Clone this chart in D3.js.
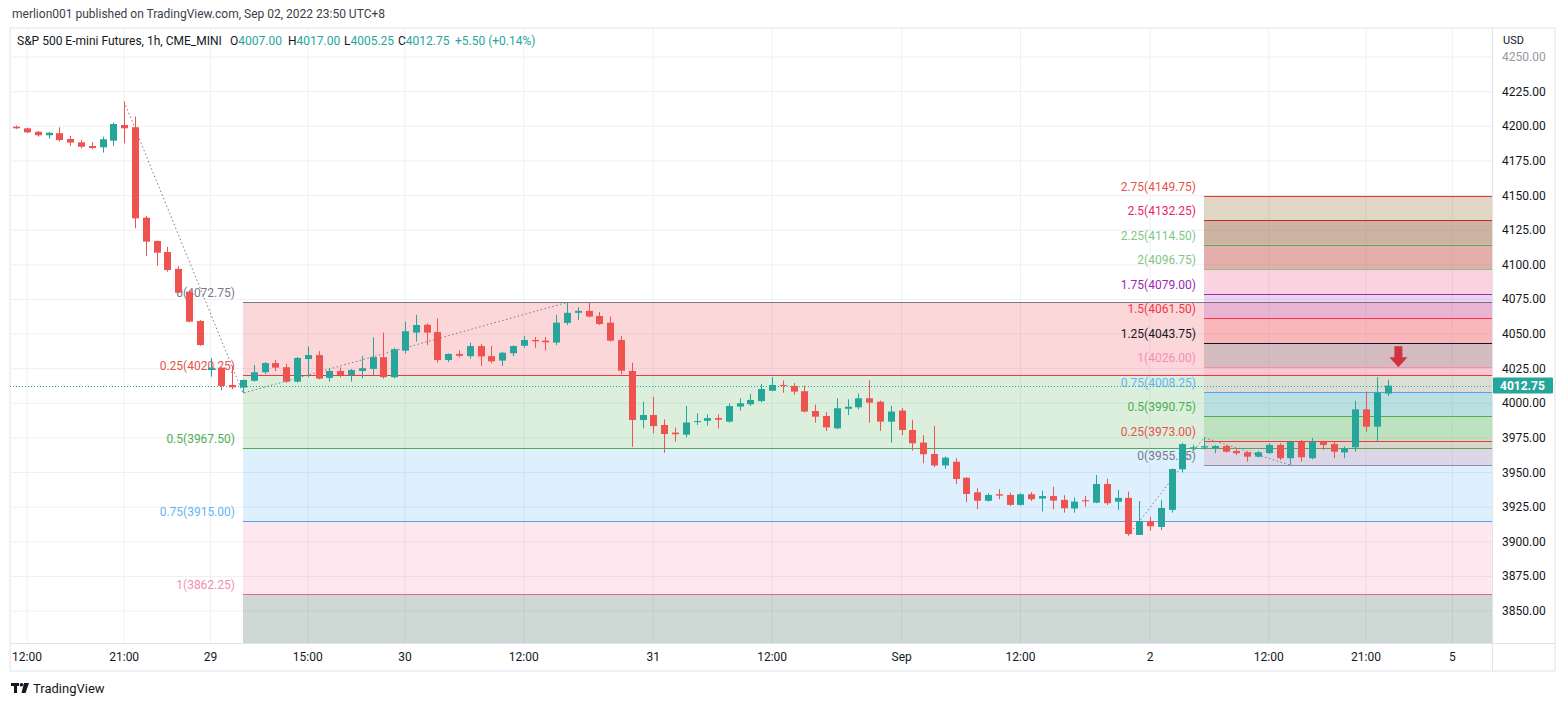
<!DOCTYPE html>
<html lang="en">
<head>
<meta charset="UTF-8">
<title>ES1! 1h</title>
<script src="https://d3js.org/d3.v7.min.js"></script>
<style>
  body { margin: 0; background: #fff; }
  text { font-family: Roboto, "Noto Sans", sans-serif; }
</style>
</head>
<body>
<svg width="1566" height="706"></svg>
<script>
// hourly bars, first one sits one bar left of the "12:00" tick
const firstBar = -1;
// [open, high, low, close]
const ohlc = [
  [4199.7,4200.5,4198.0,4198.5],[4198.5,4199.0,4195.0,4195.6],[4196.0,4196.6,4192.5,4193.5],[4193.5,4196.0,4191.0,4195.3],
  [4195.0,4199.2,4189.0,4190.0],[4190.8,4193.0,4185.7,4188.2],[4188.4,4190.0,4184.0,4185.2],[4185.7,4188.4,4183.4,4184.3],
  [4184.8,4192.5,4181.0,4190.6],[4189.6,4202.6,4185.7,4201.6],[4200.9,4217.75,4187.7,4198.5],[4199.3,4207.0,4126.3,4133.5],
  [4134.0,4135.2,4106.5,4116.7],[4117.2,4117.5,4099.3,4108.7],[4109.2,4113.0,4095.0,4096.2],[4097.0,4099.0,4079.4,4079.8],
  [4080.6,4081.5,4058.5,4058.9],[4059.4,4060.0,4041.5,4042.0],[4024.0,4032.7,4019.2,4025.7],[4025.7,4026.0,4009.5,4012.5],
  [4013.2,4026.9,4010.0,4011.5],[4011.3,4017.3,4007.25,4016.8],[4016.2,4027.6,4015.6,4022.4],[4022.4,4029.7,4021.0,4029.0],
  [4029.0,4031.2,4023.3,4025.7],[4026.0,4028.5,4014.8,4015.6],[4015.6,4033.5,4014.9,4032.7],[4031.9,4040.9,4018.8,4034.8],
  [4034.8,4037.6,4017.3,4017.8],[4018.3,4025.3,4015.6,4023.3],[4023.3,4026.0,4018.8,4020.4],[4020.4,4024.7,4015.6,4024.0],
  [4023.3,4034.1,4018.0,4025.3],[4024.8,4047.6,4020.4,4033.3],[4033.3,4051.0,4017.8,4018.8],[4018.8,4040.0,4018.0,4039.0],
  [4038.0,4058.9,4036.0,4052.0],[4051.0,4063.8,4044.5,4056.5],[4056.7,4057.7,4042.0,4051.0],[4051.4,4061.3,4029.3,4031.2],
  [4031.2,4036.0,4029.7,4035.6],[4035.6,4038.2,4033.1,4034.3],[4034.0,4043.7,4032.2,4041.3],[4041.3,4042.8,4026.9,4033.8],
  [4034.0,4041.3,4028.9,4030.3],[4030.8,4037.2,4026.9,4036.5],[4036.1,4041.7,4034.0,4041.3],[4041.5,4048.6,4040.0,4045.7],
  [4045.7,4047.9,4040.0,4044.7],[4045.2,4047.9,4038.0,4044.0],[4043.8,4063.8,4042.0,4058.2],[4058.0,4072.75,4056.5,4065.3],
  [4065.3,4069.3,4060.0,4066.7],[4066.7,4072.6,4062.0,4062.6],[4063.0,4065.9,4056.5,4057.2],[4058.2,4062.6,4044.5,4045.2],
  [4045.7,4048.6,4021.0,4023.5],[4023.3,4029.3,3968.5,3987.9],[3987.9,4001.1,3981.9,3991.5],[3991.5,4004.7,3978.3,3983.5],
  [3984.3,3988.4,3964.3,3977.8],[3978.8,3982.5,3972.3,3977.6],[3977.3,3998.0,3975.4,3986.1],[3986.4,3992.7,3984.3,3987.1],
  [3987.3,3991.9,3983.9,3989.3],[3989.3,3991.9,3981.8,3988.1],[3986.7,3999.9,3986.0,3998.0],[3997.6,4003.6,3994.6,4000.0],
  [3999.3,4006.7,3998.0,4002.4],[4001.6,4013.9,4000.7,4010.3],[4009.0,4018.8,4008.8,4013.2],[4013.2,4016.5,4007.6,4012.5],
  [4012.5,4014.6,4006.2,4008.4],[4008.7,4012.6,3993.4,3994.0],[3994.4,3999.0,3986.0,3990.3],[3990.8,3993.6,3980.0,3982.6],
  [3981.9,4003.6,3981.2,3996.4],[3996.0,4002.8,3991.5,3997.5],[3997.1,4007.0,3995.6,4003.6],[4003.6,4016.6,3986.0,4000.4],
  [4001.1,4001.9,3980.0,3986.7],[3986.7,3998.0,3971.6,3994.0],[3994.7,3996.4,3977.0,3980.7],[3980.7,3988.0,3965.8,3971.1],
  [3971.6,3977.0,3956.7,3963.2],[3963.4,3983.6,3953.8,3955.1],[3955.1,3961.6,3952.7,3960.7],[3957.8,3960.3,3941.7,3945.3],
  [3946.2,3946.5,3928.5,3934.5],[3935.7,3938.6,3923.6,3929.6],[3929.6,3935.0,3929.0,3933.8],[3934.3,3938.0,3930.7,3933.3],
  [3933.8,3935.5,3925.9,3926.6],[3926.6,3935.0,3926.0,3934.3],[3934.3,3935.9,3929.3,3930.7],[3931.2,3936.9,3921.8,3933.0],
  [3933.0,3939.7,3923.4,3929.7],[3930.2,3933.6,3921.0,3924.2],[3924.0,3932.0,3921.0,3929.0],[3930.0,3933.0,3925.3,3929.2],
  [3928.2,3948.2,3927.8,3941.7],[3941.7,3945.5,3926.5,3927.8],[3928.9,3937.4,3922.9,3931.7],[3931.7,3936.2,3904.5,3905.6],
  [3904.9,3929.4,3905.0,3915.0],[3914.8,3918.0,3908.0,3911.2],[3910.7,3930.0,3908.5,3924.4],[3923.0,3953.0,3921.0,3952.5],
  [3952.3,3971.5,3950.0,3970.5],[3967.5,3970.0,3966.0,3968.2],[3968.0,3975.25,3966.5,3969.0],[3967.5,3969.9,3963.9,3969.1],
  [3969.1,3969.9,3964.3,3965.0],[3965.5,3966.8,3962.6,3963.9],[3964.6,3965.0,3957.8,3961.4],[3961.4,3965.5,3961.0,3964.6],
  [3964.0,3971.1,3963.4,3969.9],[3969.9,3971.1,3959.0,3960.3],[3960.3,3973.0,3955.25,3972.3],[3972.3,3973.5,3957.8,3961.0],
  [3960.3,3975.0,3959.5,3972.3],[3972.3,3973.0,3966.3,3969.9],[3970.6,3972.3,3960.3,3965.0],[3964.5,3968.8,3960.3,3967.5],
  [3968.2,4001.8,3965.0,3995.6],[3995.6,4008.3,3979.5,3983.1],[3983.1,4018.8,3972.3,4007.6],[4007.0,4017.0,4005.25,4012.75]
];

const timeTickBars   = [0, 9, 17, 26, 35, 46, 58, 69, 81, 92, 104, 115, 124, 132];
const timeTickLabels = ["12:00","21:00","29","15:00","30","12:00","31","12:00","Sep","12:00","2","12:00","21:00","5"];
const priceTicks = [3850,3875,3900,3925,3950,3975,4000,4025,4050,4075,4100,4125,4150,4175,4200,4225,4250];

// trend-based fib extensions: points A, B, C as [bar, price]
const leftFibPoints  = [[9, 4217.75], [20, 4007.25], [50, 4072.75]];
const leftFibRatios  = [0, 0.25, 0.5, 0.75, 1];
const leftFibPrices  = [4072.75, 4020.25, 3967.50, 3915.00, 3862.25];
const rightFibPoints = [[102, 3904.5], [109, 3975.25], [117, 3955.25]];
const rightFibRatios = [0, 0.25, 0.5, 0.75, 1, 1.25, 1.5, 1.75, 2, 2.25, 2.5, 2.75];
const rightFibPrices = [3955.25, 3973.00, 3990.75, 4008.25, 4026.00, 4043.75, 4061.50, 4079.00, 4096.75, 4114.50, 4132.25, 4149.75];

const lastPrice = 4012.75;
const arrowBar = 127, arrowPrice = 4026;

const symbolName = "S&P 500 E-mini Futures, 1h, CME_MINI";
const legendItems = [["O", "4007.00"], ["H", "4017.00"], ["L", "4005.25"], ["C", "4012.75"], ["", "+5.50 (+0.14%)"]];

// styles
const up = "#26a69a", down = "#ef5350";
const leftLineColors = ["#787b86", "#f23645", "#4caf50", "#5b9cf6", "#f06292"];
const leftTextColors = ["#787b86", "#e5534b", "#4caf50", "#64b5f6", "#f48fb1"];
const leftBandColors = ["rgba(242,54,69,0.2)", "rgba(76,175,80,0.2)", "rgba(33,150,243,0.15)", "rgba(233,30,99,0.1)", "rgba(30,80,70,0.22)"];
const rightLineColors = ["#8c8fa8", "#f23645", "#4caf50", "#5b9cf6", "#f48fb1", "#131722", "#f23645", "#9c27b0", "#81c784", "#4caf50", "#c62828", "#e53935"];
const rightTextColors = ["#787b86", "#e5534b", "#4caf50", "#64b5f6", "#f48fb1", "#131722", "#f23645", "#9c27b0", "#81c784", "#81c784", "#e91e63", "#e5534b"];
const rightBandColors = ["rgba(200,80,110,0.15)", "rgba(76,175,80,0.2)", "rgba(33,150,243,0.18)", "rgba(233,30,99,0.08)",
  "rgba(120,123,134,0.3)", "rgba(242,54,69,0.2)", "rgba(156,39,176,0.2)", "rgba(233,30,99,0.2)",
  "rgba(188,55,43,0.4)", "rgba(130,67,22,0.4)", "rgba(155,115,65,0.3)"];

const svg = d3.select("svg");
const plot = { left: 10, right: 1492, top: 28, bottom: 643 };

const x = d3.scaleLinear().domain([0, 124]).range([27, 1366]);
const y = d3.scaleLinear().domain([3850, 4250]).range([611, 57]);

svg.append("defs").append("clipPath").attr("id", "plotclip")
  .append("rect").attr("x", plot.left).attr("y", plot.top)
  .attr("width", plot.right - plot.left).attr("height", plot.bottom - plot.top);

// header
svg.append("text").attr("x", 12).attr("y", 18).attr("font-size", 12).attr("fill", "#3a3e4a")
  .text("merlion001 published on TradingView.com, Sep 02, 2022 23:50 UTC+8");

// pane frame
svg.append("rect").attr("x", plot.left).attr("y", plot.top).attr("width", 1555 - plot.left)
  .attr("height", 671 - plot.top).attr("fill", "none").attr("stroke", "#e0e3eb");

const g = svg.append("g").attr("clip-path", "url(#plotclip)");

// grid
g.append("g").selectAll("line").data(timeTickBars).join("line")
  .attr("x1", d => x(d)).attr("x2", d => x(d)).attr("y1", plot.top).attr("y2", plot.bottom)
  .attr("stroke", "#eef0f4");
g.append("g").selectAll("line").data(priceTicks).join("line")
  .attr("x1", plot.left).attr("x2", plot.right).attr("y1", d => y(d)).attr("y2", d => y(d))
  .attr("stroke", "#eef0f4");

function drawFib(points, ratios, prices, bandColors, lineColors, textColors, fillBelow) {
  const x0 = x(points[1][0]);
  const fg = g.append("g");
  for (let k = 0; k < prices.length - 1; k++) {
    const a = y(prices[k]), b = y(prices[k + 1]);
    fg.append("rect").attr("x", x0).attr("width", plot.right - x0)
      .attr("y", Math.min(a, b)).attr("height", Math.abs(b - a)).attr("fill", bandColors[k]);
  }
  if (fillBelow) {
    const last = y(prices[prices.length - 1]);
    fg.append("rect").attr("x", x0).attr("width", plot.right - x0)
      .attr("y", last).attr("height", plot.bottom - last).attr("fill", bandColors[prices.length - 1]);
  }
  fg.selectAll("line.lvl").data(prices).join("line").attr("class", "lvl")
    .attr("x1", x0).attr("x2", plot.right)
    .attr("y1", d => Math.round(y(d)) + 0.5).attr("y2", d => Math.round(y(d)) + 0.5)
    .attr("stroke", (d, i) => lineColors[i]);
  fg.selectAll("text").data(prices).join("text")
    .attr("x", x0 - 8).attr("y", d => y(d) - 5)
    .attr("text-anchor", "end").attr("font-size", 12)
    .attr("fill", (d, i) => textColors[i])
    .text((d, i) => `${ratios[i]}(${d.toFixed(2)})`);
  fg.append("path")
    .attr("d", d3.line().x(d => x(d[0])).y(d => y(d[1]))(points))
    .attr("fill", "none").attr("stroke", "#787b86").attr("stroke-width", 1)
    .attr("stroke-dasharray", "1.5,2.5");
}

drawFib(leftFibPoints, leftFibRatios, leftFibPrices, leftBandColors, leftLineColors, leftTextColors, true);
drawFib(rightFibPoints, rightFibRatios, rightFibPrices, rightBandColors, rightLineColors, rightTextColors, false);

// last price line
g.append("line").attr("x1", plot.left).attr("x2", plot.right)
  .attr("y1", Math.round(y(lastPrice)) + 0.5).attr("y2", Math.round(y(lastPrice)) + 0.5)
  .attr("stroke", "#26a69a").attr("stroke-dasharray", "1,2");

// candles
const bars = ohlc.map((d, i) => ({ i: i + firstBar, o: d[0], h: d[1], l: d[2], c: d[3] }));
const cg = g.append("g").selectAll("g").data(bars).join("g");
cg.append("line")
  .attr("x1", d => Math.round(x(d.i)) + 0.5).attr("x2", d => Math.round(x(d.i)) + 0.5)
  .attr("y1", d => y(d.h)).attr("y2", d => y(d.l))
  .attr("stroke", d => d.c >= d.o ? up : down);
cg.append("rect")
  .attr("x", d => Math.round(x(d.i)) - 3).attr("width", 7)
  .attr("y", d => y(Math.max(d.o, d.c)))
  .attr("height", d => Math.max(1, Math.abs(y(d.o) - y(d.c))))
  .attr("fill", d => d.c >= d.o ? up : down);

// arrow marker
const ax = x(arrowBar), ay = y(arrowPrice);
g.append("path")
  .attr("d", `M${ax - 4},${ay - 21}H${ax + 4}V${ay - 10}H${ax + 9}L${ax},${ay}L${ax - 9},${ay - 10}H${ax - 4}Z`)
  .attr("fill", "#d0343f");

// axes separators
svg.append("line").attr("x1", plot.right + 0.5).attr("x2", plot.right + 0.5).attr("y1", plot.top).attr("y2", 671).attr("stroke", "#e0e3eb");
svg.append("line").attr("x1", plot.left).attr("x2", 1555).attr("y1", plot.bottom + 0.5).attr("y2", plot.bottom + 0.5).attr("stroke", "#e0e3eb");

// price axis
svg.append("text").attr("x", 1503).attr("y", 44).attr("font-size", 11).attr("fill", "#131722").text("USD");
svg.append("g").selectAll("text").data(priceTicks).join("text")
  .attr("x", 1502).attr("y", d => y(d) + 4).attr("font-size", 12)
  .attr("fill", d => d === 4250 ? "#9598a1" : "#131722")
  .text(d => d.toFixed(2));
svg.append("rect").attr("x", 1493).attr("y", y(lastPrice) - 8).attr("width", 60).attr("height", 16)
  .attr("rx", 1).attr("fill", "#26a69a");
svg.append("text").attr("x", 1500).attr("y", y(lastPrice) + 4.5).attr("font-size", 12)
  .attr("font-weight", "bold").attr("fill", "#fff").text(lastPrice.toFixed(2));

// time axis
svg.append("g").selectAll("text").data(timeTickBars).join("text")
  .attr("x", d => x(d)).attr("y", 661).attr("text-anchor", "middle").attr("font-size", 12)
  .attr("fill", "#131722").text((d, i) => timeTickLabels[i]);

// legend row
const leg = svg.append("g").attr("font-size", 12);
leg.append("text").attr("x", 17).attr("y", 45).attr("fill", "#131722").text(symbolName);
const legX = [230, 288, 344, 398, 455];
legendItems.forEach((it, k) => {
  const t = leg.append("text").attr("x", legX[k]).attr("y", 45);
  t.append("tspan").attr("fill", "#131722").text(it[0]);
  t.append("tspan").attr("fill", "#26a69a").text(it[1]);
});

// TradingView mark
const logo = svg.append("g").attr("fill", "#131722");
logo.append("path").attr("d", "M11,683H19V686H17V693H14V686H11Z");
logo.append("circle").attr("cx", 21.5).attr("cy", 684.8).attr("r", 1.8);
logo.append("path").attr("d", "M24,683H29L25.5,693H21.5Z");
svg.append("text").attr("x", 33).attr("y", 693).attr("font-size", 13).attr("fill", "#131722").text("TradingView");
</script>
</body>
</html>
